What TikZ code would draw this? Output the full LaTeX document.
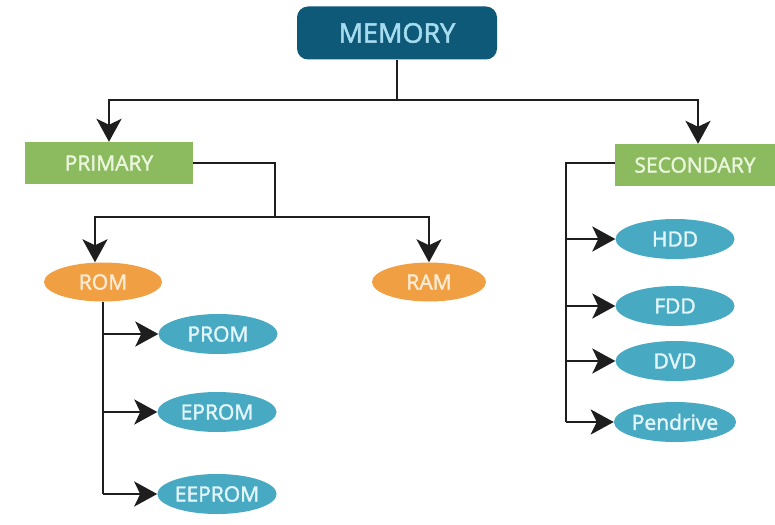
\documentclass[tikz,border=0pt]{standalone}
\usepackage{fontspec}
\setmainfont{Open Sans}[FakeBold=2]
\usetikzlibrary{shapes.geometric,arrows.meta}
\definecolor{memblue}{HTML}{0E5878}
\definecolor{memtext}{HTML}{A6DCEF}
\definecolor{boxgreen}{HTML}{8CBA5E}
\definecolor{greentext}{HTML}{EAF6DC}
\definecolor{ovorange}{HTML}{F0A043}
\definecolor{orangetext}{HTML}{FDEBD3}
\definecolor{ovteal}{HTML}{48AAC2}
\definecolor{tealtext}{HTML}{E2F5FA}
\definecolor{linecol}{HTML}{1E1E1E}
\tikzset{
  x=1pt, y=-1pt,
  membox/.style={draw=none, fill=memblue, rounded corners=11pt, minimum width=200pt, minimum height=53pt, inner sep=0pt, text=memtext, font=\fontsize{27}{31}\selectfont},
  catbox/.style={draw=none, fill=boxgreen, minimum height=42pt, inner sep=0pt, text=greentext, font=\fontsize{21}{24}\selectfont},
  orangeov/.style={ellipse, draw=none, fill=ovorange, minimum width=118pt, minimum height=39pt, inner sep=0pt, text=orangetext, font=\fontsize{21}{24}\selectfont},
  tealov/.style={ellipse, draw=none, fill=ovteal, minimum width=119pt, minimum height=40pt, inner sep=0pt, text=tealtext, font=\fontsize{21}{24}\selectfont},
  conn/.style={draw=linecol, line width=2.8pt},
  arr/.style={conn, -{Stealth[length=23pt, width=25pt, inset=6pt]}},
}
\begin{document}
\begin{tikzpicture}
\useasboundingbox (0,0) rectangle (775,524);
\node[membox] (mem) at (397,33) {MEMORY};
\node[catbox, minimum width=168pt] (pri) at (109,163) {PRIMARY};
\node[catbox, minimum width=160pt] (sec) at (695,165) {SECONDARY};
\node[orangeov] (rom) at (103,282) {ROM};
\node[orangeov, minimum width=114pt] (ram) at (429,282) {RAM};
\node[tealov] (prom) at (218,334) {PROM};
\node[tealov] (eprom) at (217,412) {EPROM};
\node[tealov] (eeprom) at (217,494) {EEPROM};
\node[tealov] (hdd) at (675,239) {HDD};
\node[tealov] (fdd) at (675,306) {FDD};
\node[tealov] (dvd) at (675,361) {DVD};
\node[tealov] (pen) at (675,422) {Pendrive};
% memory split
\coordinate (j1) at (397,100);
\draw[conn] (mem.south) -- (j1);
\draw[arr] (j1) -| (pri.north);
\draw[arr] (j1) -| ([xshift=3pt]sec.north);
% primary split
\coordinate (j2) at (275,217);
\draw[conn] (pri.east) -| (j2);
\draw[arr] (j2) -| ([xshift=-8pt]rom.north);
\draw[arr] (j2) -| (ram.north);
% ROM children
\draw[conn] (rom.south) -- (rom.south |- eeprom.west);
\draw[arr] (rom.south |- prom.west) -- (prom.west);
\draw[arr] (rom.south |- eprom.west) -- (eprom.west);
\draw[arr] (rom.south |- eeprom.west) -- (eeprom.west);
% secondary children
\coordinate (j3) at (566,163);
\draw[conn] (sec.west |- j3) -- (j3) -- (j3 |- pen.west);
\draw[arr] (j3 |- hdd.west) -- (hdd.west);
\draw[arr] (j3 |- fdd.west) -- (fdd.west);
\draw[arr] (j3 |- dvd.west) -- (dvd.west);
\draw[arr] (j3 |- pen.west) -- (pen.west);
\end{tikzpicture}
\end{document}
